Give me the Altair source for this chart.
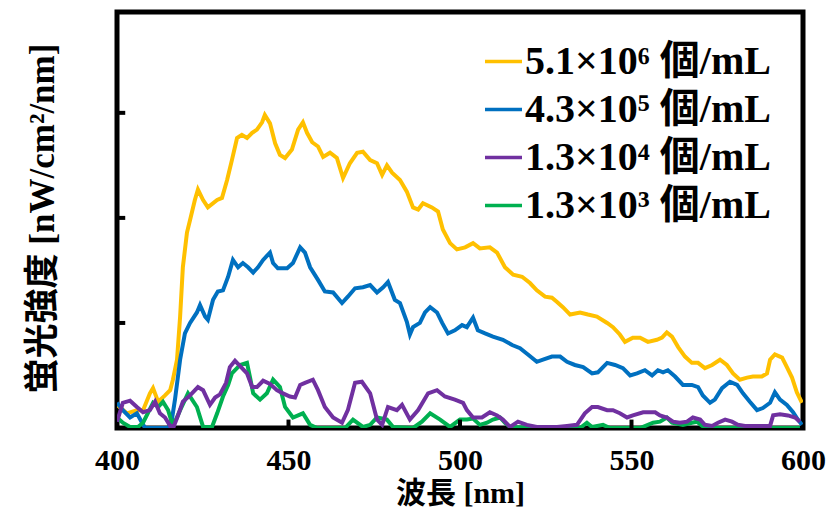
import altair as alt
import pandas as pd

FONT = "Liberation Serif, 'Noto Sans CJK JP'"

names = ["5.1×10⁶ 個/mL", "4.3×10⁵ 個/mL", "1.3×10⁴ 個/mL", "1.3×10³ 個/mL"]
colors = ["#FFC000", "#0070C0", "#7030A0", "#00B050"]

# 5.1x10^6 (yellow)
wl_a = [400.0, 402.9, 405.8, 407.6, 409.6, 410.5, 412.0, 414.0, 415.5, 416.3, 417.5, 418.4, 419.2, 420.4,
        421.3, 422.7, 423.6, 425.1, 426.5, 429.2, 430.6, 432.1, 433.5, 435.0, 436.4, 437.9, 439.4, 440.8,
        442.3, 443.1, 444.6, 446.1, 447.5, 449.0, 451.0, 452.8, 454.2, 455.4, 456.9, 458.6, 460.1, 462.1,
        464.1, 465.9, 467.9, 470.0, 471.7, 473.8, 475.8, 477.3, 478.7, 480.2, 482.5, 484.5, 486.3, 487.8,
        489.2, 491.8, 493.6, 495.0, 497.1, 499.1, 501.5, 503.8, 505.8, 508.7, 510.8, 513.1, 515.5, 518.1,
        520.4, 522.4, 524.8, 526.8, 528.3, 530.0, 532.1, 535.0, 537.3, 539.9, 542.9, 544.6, 546.6, 548.1,
        550.4, 552.5, 554.8, 557.4, 558.9, 560.3, 561.8, 563.6, 565.6, 567.6, 569.4, 571.4, 573.5, 575.8,
        577.8, 579.6, 581.6, 583.7, 585.4, 588.0, 589.5, 590.4, 591.8, 593.9, 595.3, 596.8, 598.2, 599.7]
iv_a = [0.22, 0.14, 0.17, 0.17, 0.33, 0.38, 0.25, 0.31, 0.36, 0.46, 0.65, 1.06, 1.53, 1.86,
        1.98, 2.17, 2.27, 2.17, 2.10, 2.17, 2.19, 2.36, 2.55, 2.76, 2.79, 2.76, 2.81, 2.84,
        2.91, 2.98, 2.90, 2.71, 2.60, 2.57, 2.65, 2.84, 2.91, 2.81, 2.72, 2.68, 2.58, 2.62,
        2.57, 2.38, 2.52, 2.62, 2.63, 2.55, 2.52, 2.41, 2.50, 2.43, 2.36, 2.25, 2.10, 2.08,
        2.14, 2.10, 2.06, 1.89, 1.76, 1.70, 1.72, 1.76, 1.71, 1.72, 1.67, 1.53, 1.46, 1.44,
        1.38, 1.31, 1.25, 1.24, 1.20, 1.15, 1.08, 1.10, 1.08, 1.06, 1.00, 0.96, 0.89, 0.82,
        0.86, 0.86, 0.82, 0.84, 0.86, 0.91, 0.87, 0.77, 0.68, 0.62, 0.62, 0.57, 0.60, 0.65,
        0.60, 0.52, 0.46, 0.48, 0.49, 0.49, 0.52, 0.65, 0.70, 0.67, 0.58, 0.48, 0.34, 0.24]

# 4.3x10^5 (blue)
wl_b = [400.0, 401.7, 403.8, 405.8, 407.3, 408.2, 412.5, 414.9, 416.0, 416.9, 418.4, 419.8, 421.3, 423.3,
        424.2, 425.7, 426.5, 428.0, 429.4, 430.9, 432.4, 433.8, 435.3, 436.7, 438.2, 439.7, 441.1, 442.6,
        444.6, 445.5, 446.9, 449.6, 451.3, 453.4, 454.8, 456.3, 458.6, 460.6, 463.0, 465.6, 467.3, 469.4,
        471.7, 473.8, 475.8, 477.6, 479.0, 481.0, 482.5, 484.5, 485.4, 486.3, 488.3, 489.8, 491.3, 493.3,
        494.8, 496.5, 498.5, 500.6, 502.0, 503.8, 505.2, 507.3, 509.6, 512.5, 515.2, 517.5, 519.8, 522.4,
        524.2, 526.8, 529.2, 531.2, 533.5, 535.9, 538.5, 540.2, 542.9, 545.2, 547.5, 549.6, 551.6, 553.9,
        556.0, 557.7, 559.2, 560.6, 562.7, 565.0, 567.6, 569.4, 570.8, 572.9, 574.3, 576.4, 578.7, 580.8,
        582.5, 584.5, 586.6, 588.3, 590.4, 591.8, 593.3, 595.3, 597.1, 598.5, 599.7]
iv_b = [0.24, 0.17, 0.10, 0.14, 0.05, 0.00, 0.00, 0.00, 0.08, 0.27, 0.65, 0.90, 1.00, 1.10,
        1.17, 1.06, 1.03, 1.22, 1.30, 1.31, 1.44, 1.60, 1.53, 1.57, 1.53, 1.48, 1.53, 1.60,
        1.67, 1.57, 1.52, 1.52, 1.57, 1.72, 1.67, 1.53, 1.41, 1.30, 1.29, 1.19, 1.25, 1.33,
        1.34, 1.36, 1.29, 1.34, 1.39, 1.22, 1.19, 1.01, 0.89, 0.96, 1.00, 1.10, 1.15, 1.10,
        1.00, 0.90, 0.93, 0.98, 0.96, 1.05, 0.93, 0.90, 0.87, 0.84, 0.79, 0.76, 0.70, 0.63,
        0.65, 0.68, 0.68, 0.63, 0.60, 0.58, 0.52, 0.53, 0.62, 0.60, 0.57, 0.50, 0.52, 0.55,
        0.50, 0.55, 0.53, 0.55, 0.49, 0.41, 0.41, 0.39, 0.31, 0.24, 0.27, 0.38, 0.44, 0.41,
        0.33, 0.25, 0.17, 0.19, 0.24, 0.34, 0.27, 0.22, 0.15, 0.08, 0.03]

# 1.3x10^4 (purple)
wl_c = [400.0, 401.7, 403.8, 405.8, 407.6, 409.6, 411.1, 412.5, 414.0, 415.5, 416.6, 417.8, 419.2, 421.3,
        423.6, 425.1, 427.1, 428.6, 430.0, 431.8, 432.9, 434.4, 435.9, 437.9, 439.4, 440.8, 442.6, 444.6,
        446.6, 448.4, 450.4, 451.9, 453.4, 454.8, 457.1, 458.6, 460.6, 463.0, 465.6, 467.3, 469.4, 471.4,
        473.8, 475.8, 477.3, 479.0, 481.6, 483.1, 485.4, 487.8, 490.7, 493.3, 495.6, 498.5, 500.9, 502.0,
        503.8, 506.4, 508.7, 510.8, 512.5, 514.6, 516.9, 519.5, 522.4, 528.3, 531.2, 534.1, 536.4, 538.5,
        540.2, 542.9, 544.6, 546.6, 548.7, 550.4, 553.4, 555.4, 556.9, 558.3, 560.3, 562.1, 564.1, 566.2,
        567.9, 570.0, 571.4, 573.5, 575.2, 577.3, 579.3, 581.0, 583.1, 590.4, 591.3, 593.3, 595.6, 597.7,
        599.1]
iv_c = [0.06, 0.24, 0.26, 0.20, 0.15, 0.17, 0.25, 0.14, 0.10, 0.02, 0.02, 0.12, 0.25, 0.31,
        0.39, 0.36, 0.22, 0.29, 0.32, 0.43, 0.58, 0.64, 0.59, 0.52, 0.39, 0.39, 0.45, 0.42,
        0.36, 0.33, 0.30, 0.29, 0.41, 0.43, 0.46, 0.36, 0.20, 0.10, 0.05, 0.17, 0.43, 0.44,
        0.33, 0.08, 0.03, 0.20, 0.17, 0.22, 0.08, 0.17, 0.33, 0.36, 0.30, 0.27, 0.24, 0.17,
        0.10, 0.10, 0.15, 0.12, 0.08, 0.01, 0.06, 0.03, 0.01, 0.01, 0.02, 0.03, 0.14, 0.20,
        0.20, 0.17, 0.17, 0.14, 0.10, 0.12, 0.15, 0.15, 0.15, 0.12, 0.10, 0.06, 0.05, 0.06,
        0.10, 0.08, 0.03, 0.02, 0.05, 0.08, 0.06, 0.03, 0.02, 0.02, 0.12, 0.13, 0.12, 0.10,
        0.06]

# 1.3x10^3 (green)
wl_d = [400.0, 401.7, 403.8, 406.1, 407.6, 410.5, 412.0, 413.4, 414.9, 416.0, 417.2, 418.4, 420.7, 423.3,
        425.1, 427.7, 429.2, 430.9, 432.4, 433.5, 435.9, 437.9, 438.8, 439.7, 441.7, 443.7, 445.5, 447.5,
        449.0, 451.3, 454.2, 456.3, 458.3, 463.0, 466.5, 468.8, 471.7, 473.8, 475.8, 478.7, 480.5, 486.3,
        488.9, 491.3, 494.2, 497.1, 500.0, 502.0, 503.8, 505.8, 507.9, 509.6, 511.7, 513.1, 514.6, 523.3,
        535.0, 537.0, 538.5, 541.7, 543.7, 552.5, 556.3, 558.3, 560.3, 561.8, 565.0, 567.6, 569.1, 570.6,
        572.9, 599.1]
iv_d = [0.10, 0.05, 0.01, 0.01, 0.05, 0.24, 0.20, 0.25, 0.17, 0.05, 0.08, 0.17, 0.33, 0.20,
        0.01, 0.01, 0.14, 0.30, 0.41, 0.52, 0.60, 0.62, 0.48, 0.33, 0.27, 0.33, 0.46, 0.39,
        0.20, 0.10, 0.14, 0.03, 0.00, 0.00, 0.00, 0.08, 0.01, 0.03, 0.10, 0.08, 0.01, 0.00,
        0.06, 0.14, 0.08, 0.01, 0.08, 0.08, 0.09, 0.03, 0.05, 0.08, 0.10, 0.05, 0.01, 0.00,
        0.00, 0.05, 0.01, 0.03, 0.00, 0.00, 0.05, 0.06, 0.10, 0.05, 0.03, 0.05, 0.06, 0.02,
        0.00, 0.00]

x_ticks = [400, 450, 500, 550, 600]
inner_x_ticks = [450, 500, 550]
inner_y_ticks = [1, 2, 3]

# build long table; draw order: yellow, blue, green, purple (purple on top)
series = [(names[0], wl_a, iv_a, 0), (names[1], wl_b, iv_b, 1),
          (names[3], wl_d, iv_d, 2), (names[2], wl_c, iv_c, 3)]
rows = []
for name, wl, iv, z in series:
    for i, (w, v) in enumerate(zip(wl, iv)):
        rows.append({"series": name, "wl": w, "v": v, "idx": i, "z": z})
df = pd.DataFrame(rows)

xscale = alt.Scale(domain=[400, 600], nice=False, zero=False)
yscale = alt.Scale(domain=[0, 3.96], nice=False)

xaxis = alt.Axis(values=x_ticks, title="波長 [nm]", ticks=False, domain=False, grid=False,
                 labelFontSize=30, labelFont=FONT, labelFontWeight="bold", labelColor="black",
                 labelPadding=17, labelFlush=False,
                 titleFontSize=30, titleFont=FONT, titleFontWeight="bold", titleColor="black",
                 titleX=343, titleY=65, titleBaseline="middle", titleAlign="center")
yaxis = alt.Axis(labels=False, ticks=False, domain=False, grid=False,
                 title="蛍光強度 [nW/cm²/nm]",
                 titleFontSize=35, titleFont=FONT, titleFontWeight="bold", titleColor="black",
                 titleX=-75, titleY=206, titleBaseline="middle", titleAlign="center",
                 titleAngle=270)

lines = alt.Chart(df).mark_line(strokeWidth=4, clip=True).encode(
    x=alt.X("wl:Q", scale=xscale, axis=xaxis, title="波長 [nm]"),
    y=alt.Y("v:Q", scale=yscale, axis=yaxis, title="蛍光強度 [nW/cm²/nm]"),
    color=alt.Color("series:N", sort=names,
                    scale=alt.Scale(domain=names, range=colors),
                    legend=alt.Legend(orient="none", legendX=366, legendY=29, title=None,
                                      symbolType="stroke", symbolStrokeWidth=3.5, symbolSize=1369,
                                      labelFontSize=40, labelFont=FONT, labelFontWeight="bold",
                                      labelColor="black", labelLimit=500, rowPadding=7,
                                      labelOffset=1)),
    detail="z:N",
    order="idx:Q",
)

yt = alt.Chart(pd.DataFrame({"t": inner_y_ticks})).mark_rule(color="black", strokeWidth=4).encode(
    y=alt.Y("t:Q", scale=yscale, axis=yaxis, title="蛍光強度 [nW/cm²/nm]"),
    x=alt.datum(400), x2=alt.datum(402.4),
)
xt = alt.Chart(pd.DataFrame({"t": inner_x_ticks})).mark_rule(color="black", strokeWidth=4).encode(
    x=alt.X("t:Q", scale=xscale, axis=xaxis, title="波長 [nm]"),
    y=alt.datum(0), y2=alt.datum(0.08),
)

chart = alt.layer(lines, yt, xt).properties(
    width=686, height=416,
    autosize=alt.AutoSizeParams(type="none"),
    padding={"left": 109, "top": 4, "right": 24, "bottom": 81},
    background="white",
).configure_view(stroke="black", strokeWidth=5)

chart.save("out.html", embed_options={"renderer": "svg", "actions": False})
